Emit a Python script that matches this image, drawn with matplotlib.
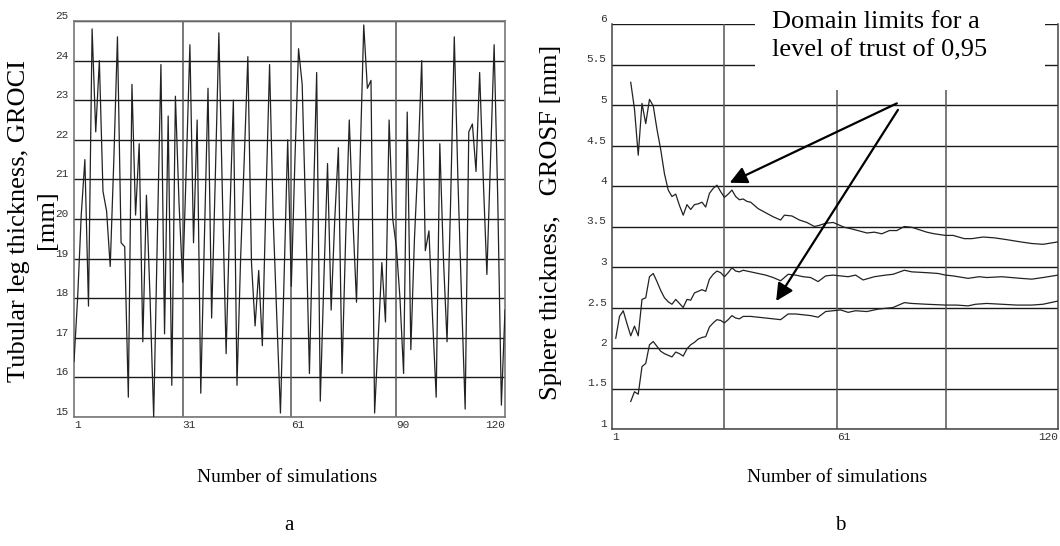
import matplotlib.pyplot as plt
import matplotlib.transforms as mtransforms
from matplotlib.patches import Rectangle

# Panel a: tubular leg thickness for each simulation (1..120)
groci = [16.4, 18.0, 20.1, 21.5, 17.8, 24.8, 22.2, 24.0, 20.7, 20.2,
         18.8, 21.5, 24.6, 19.4, 19.3, 15.5, 23.4, 20.1, 21.9, 16.9,
         20.6, 18.0, 15.0, 19.5, 23.9, 17.1, 22.6, 15.8, 23.1, 20.4,
         18.4, 21.3, 24.4, 19.4, 22.5, 15.6, 19.5, 23.3, 17.5, 21.0,
         24.7, 20.5, 16.6, 20.0, 23.0, 15.8, 19.0, 21.5, 24.1, 18.9,
         17.3, 18.7, 16.8, 20.5, 23.9, 20.0, 17.5, 15.1, 18.5, 22.0,
         18.3, 21.5, 24.3, 23.4, 20.0, 16.1, 20.0, 23.7, 15.4, 18.5,
         21.4, 17.7, 20.0, 21.8, 16.1, 19.5, 22.5, 20.0, 17.9, 21.5,
         24.9, 23.3, 23.5, 15.1, 17.0, 18.9, 17.4, 22.5, 20.0, 19.3,
         18.0, 16.1, 22.7, 16.7, 19.5, 21.5, 24.0, 19.2, 19.7, 17.5,
         15.5, 21.9, 19.0, 16.9, 20.5, 24.6, 21.0, 18.0, 15.2, 22.2,
         22.4, 21.2, 23.7, 21.0, 18.6, 21.5, 24.4, 20.5, 15.3, 17.7]
sim_a = list(range(1, len(groci) + 1))

# Panel b: sphere thickness, upper / mean / lower limits
upper_x = [6, 7, 8, 9, 10, 11, 12, 13, 14, 15, 16, 17, 18, 19, 20, 21, 22, 23, 24, 25,
           26, 27, 28, 29, 30, 31, 32, 33, 34, 35, 36, 37, 38, 40, 42, 44, 46, 47, 49, 51,
           53, 55, 56, 58, 60, 63, 65, 69, 71, 73, 75, 77, 79, 81, 85, 87, 90, 92, 95, 97,
           100, 103, 106, 110, 113, 116, 120]
upper_y = [5.28, 4.95, 4.38, 5.02, 4.77, 5.07, 4.99, 4.70, 4.45, 4.15, 3.95, 3.87, 3.90, 3.76,
           3.64, 3.77, 3.71, 3.77, 3.78, 3.80, 3.74, 3.91, 3.97, 4.01, 3.93, 3.86, 3.90, 3.95,
           3.87, 3.83, 3.84, 3.81, 3.80, 3.72, 3.67, 3.62, 3.58, 3.64, 3.63, 3.58, 3.55, 3.50,
           3.51, 3.54, 3.55, 3.49, 3.47, 3.42, 3.43, 3.41, 3.45, 3.45, 3.50, 3.49, 3.43, 3.41,
           3.39, 3.39, 3.35, 3.35, 3.37, 3.36, 3.34, 3.31, 3.29, 3.28, 3.31]

mid_x = [2, 3, 4, 5, 6, 7, 8, 9, 10, 11, 12, 13, 14, 15, 16, 17, 18, 19, 20, 21,
         22, 23, 24, 25, 26, 27, 28, 29, 30, 31, 32, 33, 34, 35, 36, 38, 40, 42, 44, 46,
         48, 50, 52, 54, 56, 58, 60, 62, 64, 66, 68, 71, 74, 76, 79, 81, 85, 88, 90, 92,
         96, 99, 101, 105, 110, 113, 116, 120]
mid_y = [2.12, 2.39, 2.46, 2.30, 2.15, 2.27, 2.15, 2.60, 2.62, 2.88, 2.92, 2.82, 2.71, 2.62,
         2.57, 2.54, 2.60, 2.55, 2.50, 2.60, 2.59, 2.68, 2.70, 2.72, 2.70, 2.85, 2.91, 2.95,
         2.93, 2.88, 2.93, 2.99, 2.95, 2.94, 2.96, 2.94, 2.92, 2.90, 2.87, 2.83, 2.91, 2.90,
         2.88, 2.87, 2.82, 2.89, 2.90, 2.89, 2.88, 2.90, 2.84, 2.88, 2.90, 2.91, 2.96, 2.94,
         2.93, 2.92, 2.90, 2.89, 2.86, 2.88, 2.87, 2.88, 2.86, 2.85, 2.87, 2.90]

lower_x = [6, 7, 8, 9, 10, 11, 12, 13, 14, 15, 16, 17, 18, 19, 20, 21, 22, 23, 24, 25,
           26, 27, 28, 29, 30, 31, 32, 33, 34, 35, 36, 38, 40, 42, 44, 46, 48, 50, 52, 54,
           56, 58, 60, 62, 64, 66, 69, 72, 76, 79, 81, 85, 90, 93, 96, 98, 101, 105, 109, 113,
           116, 120]
lower_y = [1.34, 1.46, 1.43, 1.77, 1.81, 2.04, 2.08, 2.02, 1.96, 1.93, 1.91, 1.89, 1.95, 1.93,
           1.90, 1.99, 2.04, 2.07, 2.11, 2.13, 2.14, 2.26, 2.31, 2.35, 2.34, 2.31, 2.35, 2.40,
           2.37, 2.36, 2.39, 2.39, 2.38, 2.37, 2.36, 2.35, 2.42, 2.42, 2.41, 2.40, 2.38, 2.45,
           2.46, 2.47, 2.44, 2.46, 2.45, 2.48, 2.50, 2.56, 2.55, 2.54, 2.53, 2.53, 2.52, 2.54,
           2.55, 2.54, 2.53, 2.53, 2.54, 2.58]

x_ticks = [1, 31, 61, 90, 120]
x_labels_a = ['1', '31', '61', '90', '120']
x_labels_b = ['1', '', '61', '', '120']
y_ticks_a = [15, 16, 17, 18, 19, 20, 21, 22, 23, 24, 25]
y_ticks_b = [1, 1.5, 2, 2.5, 3, 3.5, 4, 4.5, 5, 5.5, 6]

# arrows: (text anchor, arrow tip) in panel b data units
arrow_from = [(77.0, 5.02), (77.3, 4.94)]
arrow_to = [(32.4, 4.04), (44.8, 2.58)]

W, H = 1060, 546
SERIF = 'Liberation Serif'
MONO = 'Liberation Mono'
TICK_COLOR = '#333333'


def px(x, y):
    # pixel position -> figure fraction
    return x / W, 1 - y / H


def style_axes(ax, xlim, ylim, yticks, ylabels, xlabels):
    ax.set_xlim(*xlim)
    ax.set_ylim(*ylim)
    ax.set_xticks(x_ticks)
    ax.set_yticks(yticks)
    ax.set_xticklabels([])
    ax.set_yticklabels([])
    ax.tick_params(length=0)
    ax.grid(False)
    for v in yticks:
        ax.axhline(v, color='#1a1a1a', lw=1.0, zorder=1)
    for v in x_ticks[1:-1]:
        ax.axvline(v, color='#555555', lw=1.1, zorder=1)
    trans_y = mtransforms.blended_transform_factory(ax.transAxes, ax.transData)
    for v, lab in zip(yticks, ylabels):
        ax.text(-0.012, v, lab, transform=trans_y, ha='right', va='bottom',
                fontsize=8, family=MONO, color=TICK_COLOR)
    trans_x = mtransforms.blended_transform_factory(ax.transData, ax.transAxes)
    for i, (v, lab) in enumerate(zip(x_ticks, xlabels)):
        ha = 'right' if i == len(x_ticks) - 1 else 'left'
        ax.text(v, -0.008, lab, transform=trans_x, ha=ha, va='top',
                fontsize=8, family=MONO, color=TICK_COLOR)


fig = plt.figure(figsize=(W / 100, H / 100), dpi=100)

# panel a
ax1 = fig.add_axes([74 / W, 1 - 417 / H, (505 - 74) / W, (417 - 21) / H])
style_axes(ax1, (1, 120), (15, 25), y_ticks_a,
           [str(v) for v in y_ticks_a], x_labels_a)
for s in ax1.spines.values():
    s.set_color('#777777')
    s.set_linewidth(1.2)
ax1.plot(sim_a, groci, color='#222222', lw=0.9, zorder=3)

# panel b
ax2 = fig.add_axes([612 / W, 1 - 429 / H, (1058 - 612) / W, (429 - 24) / H])
style_axes(ax2, (1, 120), (1, 6), y_ticks_b,
           ['1', '1.5', '2', '2.5', '3', '3.5', '4', '4.5', '5', '5.5', '6'],
           x_labels_b)
ax2.spines['top'].set_visible(False)
for k in ['left', 'bottom', 'right']:
    ax2.spines[k].set_color('#444444')
    ax2.spines[k].set_linewidth(1.1)
ax2.plot(upper_x, upper_y, color='#222222', lw=0.9, zorder=3)
ax2.plot(mid_x, mid_y, color='#222222', lw=0.9, zorder=3)
ax2.plot(lower_x, lower_y, color='#222222', lw=0.9, zorder=3)

# white box behind the annotation text hides the grid there
ax2.add_patch(Rectangle((0.32, 0.837), 0.651, 0.3, transform=ax2.transAxes,
                        facecolor='white', edgecolor='none', zorder=2,
                        clip_on=False))
for (x0, y0), (x1, y1) in zip(arrow_from, arrow_to):
    ax2.annotate('', xy=(x1, y1), xytext=(x0, y0),
                 arrowprops=dict(arrowstyle='-|>', color='black', lw=1.6,
                                 mutation_scale=26, shrinkA=0, shrinkB=0),
                 zorder=5, annotation_clip=False)

fig.text(*px(772, 22), 'Domain limits for a', family=SERIF, fontsize=19,
         ha='left', va='center')
fig.text(*px(772, 50), 'level of trust of 0,95', family=SERIF, fontsize=19,
         ha='left', va='center')

# axis titles
fig.text(*px(19, 221), 'Tubular leg thickness, GROCI', family=SERIF,
         fontsize=19, rotation=90, ha='center', va='center')
fig.text(*px(47, 220), '[mm]', family=SERIF, fontsize=19, rotation=90,
         ha='center', va='center')
fig.text(*px(551, 222), 'Sphere thickness,   GROSF [mm]', family=SERIF,
         fontsize=19, rotation=90, ha='center', va='center')

fig.text(*px(287, 478), 'Number of simulations', family=SERIF, fontsize=14,
         ha='center', va='center')
fig.text(*px(837, 478), 'Number of simulations', family=SERIF, fontsize=14,
         ha='center', va='center')
fig.text(*px(289, 526), 'a', family=SERIF, fontsize=15, ha='center', va='center')
fig.text(*px(840, 526), 'b', family=SERIF, fontsize=15, ha='center', va='center')

fig.savefig('out.png', dpi=100)
